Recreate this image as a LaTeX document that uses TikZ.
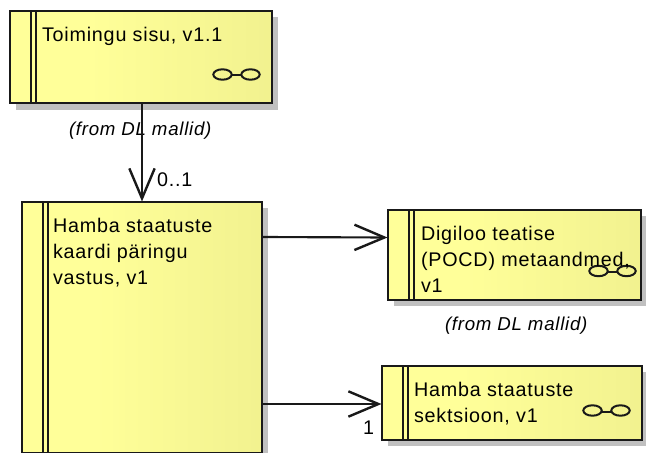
\documentclass[tikz,border=0pt]{standalone}
\usepackage{fontspec}
\setmainfont[LetterSpace=4]{Liberation Sans}
\usetikzlibrary{arrows.meta,calc}
\definecolor{boxfill}{RGB}{255,255,153}
\definecolor{boxdark}{RGB}{232,232,136}
\definecolor{shadowgray}{RGB}{192,192,192}
\pgfdeclarehorizontalshading{boxshade}{100bp}{color(0bp)=(boxfill); color(40bp)=(boxfill); color(100bp)=(boxdark)}
\tikzset{
  x=0.75pt,y=-0.75pt,
  ln/.style={draw=black!90,line width=1.5pt},
  body/.style={rectangle,ln,shading=boxshade,inner sep=0pt,outer sep=0pt,anchor=north west},
  shadowbox/.style={rectangle,fill=shadowgray,inner sep=0pt,outer sep=0pt,anchor=north west},
  label/.style={inner sep=0pt,outer sep=0pt,anchor=base west,align=left,font=\fontsize{14.8}{19.3}\selectfont},
  note/.style={inner sep=0pt,outer sep=0pt,anchor=base west,font=\fontsize{14}{16}\selectfont\itshape},
  assoc/.style={draw=black!90,line width=1.6pt,-{Straight Barb[length=22.5pt,width=19pt,line width=1.8pt]}},
}
\newcommand{\umlbox}[6]{% name x y w h divider-x
  \node[shadowbox,minimum width=#4*0.75pt,minimum height=#5*0.75pt] at (#2+6,#3+6) {};
  \node[body,minimum width=#4*0.75pt,minimum height=#5*0.75pt] (#1) at (#2,#3) {};
  \draw[ln] (#6,#3) -- (#6,#3+#5);
  \draw[ln] (#6+5,#3) -- (#6+5,#3+#5);
}
\newcommand{\glasses}[2]{% left-ellipse centre
  \draw[ln] (#1,#2) ellipse [x radius=9.2,y radius=5.2];
  \draw[ln] (#1+28,#2) ellipse [x radius=9.2,y radius=5.2];
  \draw[ln] (#1+9,#2+1) -- (#1+19,#2+1);
}
\begin{document}
\begin{tikzpicture}
\clip (0,0) rectangle (646,453);
\fill[white] (0,0) rectangle (646,453);
\umlbox{toiming}{9.5}{11.5}{262}{92}{30.5}
\umlbox{hamba}{21.5}{201.5}{240}{251}{42.5}
\umlbox{digi}{387.5}{209.5}{253}{90}{408.5}
\umlbox{sekt}{381.5}{365.5}{260}{74}{402.5}
\glasses{222.5}{74.5}
\glasses{598.5}{271}
\glasses{592.5}{410.5}
\node[label] (t1) at (42,42) {Toimingu sisu, v1.1};
\node[label] (t2) at (53,284) {Hamba staatuste\\kaardi päringu\\vastus, v1};
\node[label] (t3) at (421,292) {Digiloo teatise\\(POCD) metaandmed,\\v1};
\node[label] (t4) at (414,422) {Hamba staatuste\\sektsioon, v1};
\node[note] (n1) at (69,135) {(from DL mallid)};
\node[note] (n2) at (445,330) {(from DL mallid)};
\node[label] (m1) at (157,186) {0..1};
\node[label] (m2) at (363,434) {1};
\draw[assoc] ($(toiming.south)+(1.5,0)$) -- ($(hamba.north)+(0.5,0)$);
\draw[assoc] ($(hamba.east)+(0,-90)$) -- ($(digi.west)+(0,-17)$);
\draw[assoc] ($(hamba.east)+(0,77)$) -- ($(sekt.west)+(0,1.5)$);
\end{tikzpicture}
\end{document}
